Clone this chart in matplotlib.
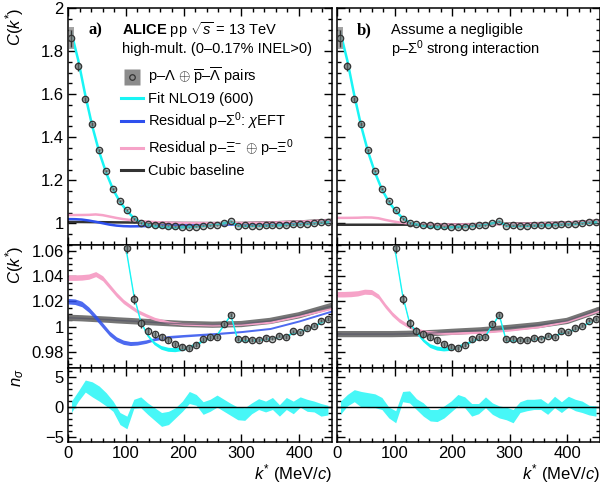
import matplotlib
matplotlib.use('Agg')
import matplotlib.pyplot as plt
from matplotlib.lines import Line2D
from matplotlib.ticker import MultipleLocator, FuncFormatter

plt.rcParams['font.family'] = ['Liberation Sans', 'DejaVu Sans']
plt.rcParams['mathtext.fontset'] = 'custom'
plt.rcParams['mathtext.rm'] = 'Liberation Sans'
plt.rcParams['mathtext.it'] = 'Liberation Sans:italic'
plt.rcParams['mathtext.bf'] = 'Liberation Sans:bold'
plt.rcParams['axes.linewidth'] = 1.1

# --- data: p-Lambda correlation, 12 MeV/c bins ---
kstar = [6, 18, 30, 42, 54, 66, 78, 90, 102, 114, 126, 138, 150, 162, 174, 186, 198, 210, 222,
         234, 246, 258, 270, 282, 294, 306, 318, 330, 342, 354, 366, 378, 390, 402, 414, 426, 438, 450]
cf = [1.860, 1.729, 1.577, 1.460, 1.340, 1.243, 1.160, 1.104, 1.0627, 1.0218, 1.0026, 0.9967, 0.9937,
      0.9918, 0.9891, 0.9859, 0.9838, 0.9827, 0.9854, 0.9900, 0.9913, 0.9918, 1.0021, 1.0094, 0.9900,
      0.9905, 0.9894, 0.9891, 0.9908, 0.9905, 0.9927, 0.9918, 0.9962, 0.9953, 0.9988, 1.0007, 1.0048, 1.0061]
stat = [0.040, 0.020, 0.012, 0.009, 0.007, 0.006, 0.005, 0.0045, 0.004, 0.004, 0.0035, 0.003, 0.003,
        0.0025, 0.0025, 0.002, 0.002, 0.002, 0.002, 0.002, 0.0018, 0.0018, 0.0018, 0.0018, 0.0016,
        0.0016, 0.0015, 0.0015, 0.0015, 0.0015, 0.0014, 0.0014, 0.0014, 0.0014, 0.0013, 0.0013, 0.0013, 0.0013]
syst = [0.050, 0.012, 0.008, 0.006, 0.005, 0.004, 0.003, 0.003, 0.0025, 0.002, 0.002, 0.0015, 0.0015,
        0.0015, 0.0015, 0.0015, 0.0015, 0.0015, 0.0015, 0.0015, 0.0015, 0.0015, 0.0015, 0.0015, 0.0015,
        0.0015, 0.0015, 0.0015, 0.0015, 0.0015, 0.0015, 0.0015, 0.0015, 0.0015, 0.0015, 0.0015, 0.0015, 0.0015]

# NLO19 (600) fit, panel a) and b)
fit_a = [1.885, 1.755, 1.595, 1.452, 1.332, 1.236, 1.158, 1.100, 1.058, 1.025, 1.004, 0.9930, 0.9865,
         0.9830, 0.9815, 0.9812, 0.9820, 0.9833, 0.9855, 0.9885, 0.9910, 0.9930, 1.0010, 1.0092, 0.9890,
         0.9888, 0.9888, 0.9890, 0.9898, 0.9905, 0.9915, 0.9925, 0.9945, 0.9958, 0.9978, 1.0000, 1.0030, 1.0060]
fit_b = [1.885, 1.755, 1.595, 1.452, 1.332, 1.236, 1.158, 1.100, 1.058, 1.025, 1.003, 0.9955, 0.9890,
         0.9845, 0.9825, 0.9818, 0.9822, 0.9835, 0.9855, 0.9880, 0.9905, 0.9925, 1.0008, 1.0092, 0.9888,
         0.9887, 0.9887, 0.9890, 0.9898, 0.9905, 0.9915, 0.9925, 0.9945, 0.9958, 0.9978, 1.0000, 1.0030, 1.0060]
fit_unc = [0.0008, 0.0008, 0.0008, 0.0008, 0.0008, 0.0008, 0.0008, 0.0008, 0.0008, 0.0008, 0.0008, 0.0010,
           0.0013, 0.0015, 0.0016, 0.0016, 0.0015, 0.0014, 0.0012, 0.0010, 0.0009, 0.0008, 0.0008, 0.0008,
           0.0008, 0.0008, 0.0008, 0.0008, 0.0008, 0.0008, 0.0008, 0.0008, 0.0008, 0.0008, 0.0008, 0.0008,
           0.0008, 0.0008]

# residual / baseline curves
curve_k = [0, 12, 24, 36, 48, 60, 72, 84, 96, 108, 120, 135, 150, 175, 200, 250, 300, 350, 400, 457]
sig0_a = [1.0202, 1.0198, 1.0180, 1.0135, 1.0075, 1.0010, 0.9945, 0.9900, 0.9875, 0.9865, 0.9868, 0.9880,
          0.9900, 0.9918, 0.9927, 0.9942, 0.9960, 0.9985, 1.0045, 1.0125]
xi_a = [1.0390, 1.0390, 1.0392, 1.0398, 1.0418, 1.0385, 1.0320, 1.0255, 1.0200, 1.0160, 1.0122, 1.0090,
        1.0062, 1.0034, 1.0021, 1.0013, 1.0018, 1.0035, 1.0085, 1.0145]
xi_b = [1.0258, 1.0258, 1.0260, 1.0265, 1.0278, 1.0275, 1.0240, 1.0165, 1.0100, 1.0050, 1.0015, 0.9980,
        0.9962, 0.9950, 0.9948, 0.9955, 0.9972, 0.9998, 1.0042, 1.0130]
res_unc = [0.0022, 0.0022, 0.0022, 0.0021, 0.0020, 0.0020, 0.0019, 0.0018, 0.0017, 0.0016, 0.0015, 0.0014,
           0.0012, 0.0011, 0.0010, 0.0009, 0.0008, 0.0008, 0.0008, 0.0008]
base_a = [1.0070, 1.0068, 1.0066, 1.0063, 1.0060, 1.0057, 1.0054, 1.0050, 1.0047, 1.0044, 1.0041, 1.0037,
          1.0033, 1.0027, 1.0021, 1.0015, 1.0020, 1.0045, 1.0090, 1.0165]
base_b = [0.9940, 0.9940, 0.9940, 0.9940, 0.9940, 0.9940, 0.9940, 0.9940, 0.9940, 0.9941, 0.9942, 0.9944,
          0.9946, 0.9951, 0.9958, 0.9970, 0.9990, 1.0012, 1.0045, 1.0135]

# n_sigma deviation bands
nsig_a_hi = [1.0, 2.7, 4.5, 4.2, 3.5, 2.4, 1.0, -0.9, -1.5, 1.3, 1.7, 0.7, -0.1, -0.9, -0.7, -0.1, 1.0, 2.6, 2.1,
             0.9, 1.3, 2.0, 1.3, 0.6, 0.0, -0.1, 0.7, 1.4, 1.0, 1.6, 0.4, 1.6, 1.0, 1.7, 1.3, 1.0, 0.6, 0.3]
nsig_a_lo = [-0.9, 1.0, 2.5, 1.7, 1.0, 0.2, -0.7, -2.9, -3.6, -0.2, -0.1, -1.2, -2.2, -3.2, -2.9, -1.8, -0.7, 0.6,
             0.3, -1.2, -0.7, 0.0, -0.7, -1.4, -2.1, -2.2, -1.1, -0.4, -0.8, -0.4, -1.5, -0.4, -1.1, 0.0, -0.7,
             -0.8, -1.5, -1.3]
nsig_b_hi = [1.0, 2.1, 2.9, 2.6, 2.4, 2.2, 1.6, 0.0, -0.6, 2.6, 2.7, 1.4, 0.7, -0.4, -0.4, 0.2, 1.0, 2.1, 1.7,
             0.6, 0.6, 1.7, 0.7, 0.2, 0.0, -0.4, 0.9, 1.3, 1.3, 1.4, 0.6, 1.8, 0.9, 1.8, 1.3, 1.0, 0.3, 0.2]
nsig_b_lo = [-1.2, 0.2, 0.9, 0.0, -0.1, -0.1, -0.4, -1.8, -2.6, 0.9, 0.7, -0.4, -1.5, -2.3, -2.4, -1.8, -0.8, 0.2,
             -0.1, -1.5, -1.1, -0.1, -1.2, -1.8, -2.1, -2.6, -0.9, -0.6, -0.4, -0.4, -1.2, -0.1, -0.9, 0.0, -0.6,
             -0.9, -1.3, -1.5]

CYAN = '#19f5f5'
BLUE = '#2e50ee'
PINK = '#f6a3c8'
GREY = '#6e6e6e'
TEXT_SIZE = 12

# ROOT-like tick labels: "1.8", "2", "1", "0.98", unicode minus
short_fmt = FuncFormatter(lambda v, pos: ('%g' % round(v, 6)).replace('-', '\u2212'))


def style_axis(ax, ylim, ymaj, ymin, show_x, show_y):
    ax.set_xlim(0, 457)
    ax.set_ylim(*ylim)
    ax.xaxis.set_major_locator(MultipleLocator(100))
    ax.xaxis.set_minor_locator(MultipleLocator(20))
    ax.yaxis.set_major_locator(MultipleLocator(ymaj))
    ax.yaxis.set_minor_locator(MultipleLocator(ymin))
    ax.yaxis.set_major_formatter(short_fmt)
    ax.tick_params(which='both', direction='in', top=True, right=True, width=1,
                   labelsize=TEXT_SIZE, labelbottom=show_x, labelleft=show_y, pad=3)
    ax.tick_params(which='major', length=6)
    ax.tick_params(which='minor', length=3)


def data_points(ax):
    ax.bar(kstar, [2 * s for s in syst], bottom=[c - s for c, s in zip(cf, syst)], width=9,
           color='#9a9a9a', alpha=0.9, zorder=4)
    ax.errorbar(kstar, cf, yerr=stat, fmt='o', ms=4.6, mfc=(0.45, 0.5, 0.5, 0.45), mec='#333333',
                mew=0.9, ecolor='#333333', elinewidth=1, capsize=0, zorder=5)


def draw_column(x0, width, fit, xi, base, sig0, nhi, nlo, show_y):
    ax_top = fig.add_axes([x0, 0.4959, width, 0.4877])
    ax_mid = fig.add_axes([x0, 0.2428, width, 0.2531])
    ax_bot = fig.add_axes([x0, 0.0905, width, 0.1523])

    # top: full range
    ax_top.plot(curve_k, base, color='#333333', lw=1.8, zorder=2)
    if sig0 is not None:
        ax_top.plot(curve_k, sig0, color=BLUE, lw=1.8, zorder=2)
    ax_top.plot(curve_k, xi, color=PINK, lw=1.8, zorder=2)
    ax_top.plot(kstar, fit, color=CYAN, lw=1.8, zorder=3)
    data_points(ax_top)
    style_axis(ax_top, (0.9, 2.0), 0.2, 0.05, False, show_y)

    # middle: zoom
    ax_mid.plot(curve_k, base, color=GREY, lw=4.5, alpha=0.95, zorder=2)
    ax_mid.fill_between(curve_k, [v - u for v, u in zip(xi, res_unc)],
                        [v + u for v, u in zip(xi, res_unc)], color=PINK, lw=0, zorder=2)
    ax_mid.plot(curve_k, base, color='#555566', lw=1.0, alpha=0.7, zorder=2)
    if sig0 is not None:
        ax_mid.fill_between(curve_k, [v - u for v, u in zip(sig0, res_unc)],
                            [v + u for v, u in zip(sig0, res_unc)], color=BLUE, alpha=0.85, lw=0, zorder=2)
    ax_mid.fill_between(kstar, [v - u for v, u in zip(fit, fit_unc)],
                        [v + u for v, u in zip(fit, fit_unc)], color=CYAN, lw=0, zorder=3)
    ax_mid.plot(kstar, fit, color=CYAN, lw=1.0, zorder=3)
    data_points(ax_mid)
    style_axis(ax_mid, (0.967, 1.065), 0.02, 0.005, False, show_y)

    # bottom: n_sigma
    ax_bot.fill_between(kstar, nlo, nhi, color=CYAN, alpha=0.8, lw=0, zorder=2)
    ax_bot.axhline(0, color='black', lw=1.0, zorder=3)
    style_axis(ax_bot, (-5.8, 6.5), 5, 1, True, show_y)
    ax_bot.set_xlabel(r'$k^{*}$ (MeV/$c$)', fontsize=TEXT_SIZE, loc='right', labelpad=1)
    return ax_top, ax_mid, ax_bot


fig = plt.figure(figsize=(6.0, 4.86), dpi=100)

ta, ma, ba = draw_column(0.1133, 0.44, fit_a, xi_a, base_a, sig0_a, nsig_a_hi, nsig_a_lo, True)
tb, mb, bb = draw_column(0.5617, 0.4383, fit_b, xi_b, base_b, None, nsig_b_hi, nsig_b_lo, False)

for ax, lab in [(ta, r'$C(k^{*})$'), (ma, r'$C(k^{*})$'), (ba, r'$n_{\sigma}$')]:
    ax.set_ylabel(lab, fontsize=TEXT_SIZE, loc='top')
    ax.yaxis.set_label_coords(-0.16, 1.0)

# annotations
ta.text(0.076, 0.905, 'a)', transform=ta.transAxes, fontsize=12, fontweight='bold',
        family='Liberation Serif', va='center')
ta.text(0.205, 0.905, r'$\mathbf{ALICE}$ pp $\sqrt{s}$ = 13 TeV', transform=ta.transAxes,
        fontsize=10.5, va='center')
ta.text(0.205, 0.825, 'high-mult. (0–0.17% INEL>0)', transform=ta.transAxes, fontsize=10.5, va='center')
tb.text(0.076, 0.905, 'b)', transform=tb.transAxes, fontsize=12, fontweight='bold',
        family='Liberation Serif', va='center')
tb.text(0.205, 0.905, 'Assume a negligible', transform=tb.transAxes, fontsize=10.5, va='center')
tb.text(0.205, 0.825, r'p–$\Sigma^{0}$ strong interaction', transform=tb.transAxes, fontsize=10.5,
        va='center')

handles = [
    (Line2D([], [], ls='none', marker='s', ms=11, mfc='#8c8c8c', mec='none'),
     Line2D([], [], ls='none', marker='o', ms=4, mfc='none', mec='#333333', mew=0.9)),
    Line2D([], [], color=CYAN, lw=2.2),
    Line2D([], [], color=BLUE, lw=2.2),
    Line2D([], [], color=PINK, lw=2.2),
    Line2D([], [], color='#333333', lw=2.2),
]
labels = [
    r'p–$\Lambda$ $\oplus$ $\overline{\mathrm{p}}$–$\overline{\Lambda}$ pairs',
    'Fit NLO19 (600)',
    r'Residual p–$\Sigma^{0}$: $\chi$EFT',
    r'Residual p–$\Xi^{-}$ $\oplus$ p–$\Xi^{0}$',
    'Cubic baseline',
]
ta.legend(handles, labels, loc='upper left', bbox_to_anchor=(0.2, 0.755), frameon=False,
          fontsize=10.5, handlelength=1.5, handletextpad=0.4, labelspacing=0.33, borderpad=0,
          borderaxespad=0)

fig.savefig('out.png', dpi=100)
